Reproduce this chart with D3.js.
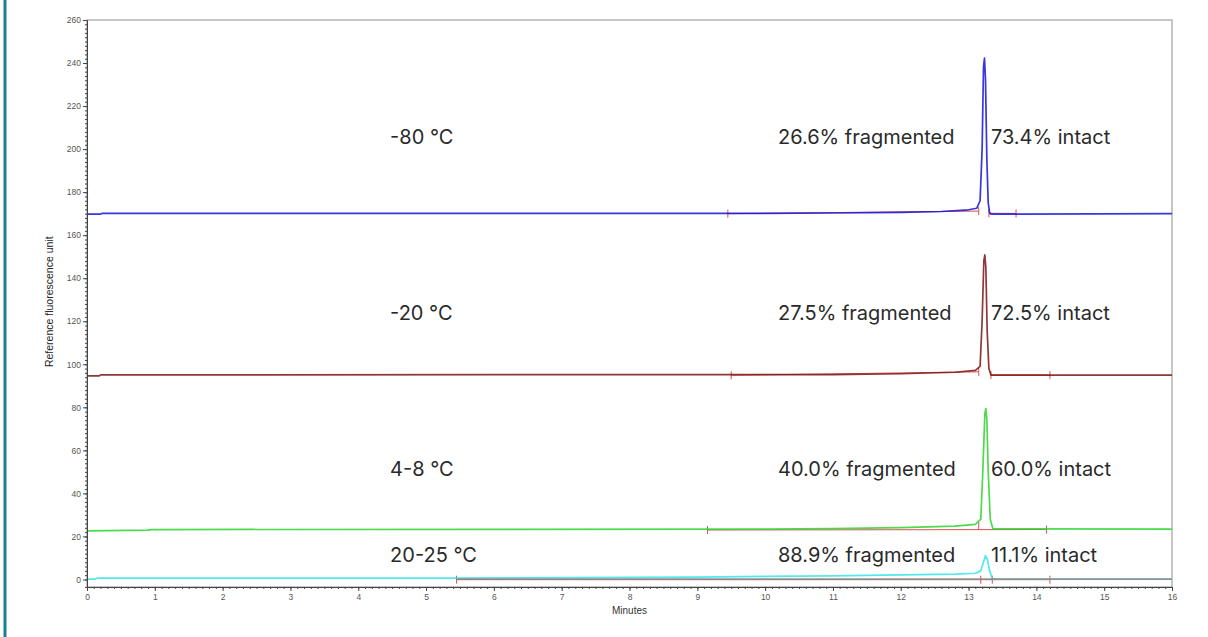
<!DOCTYPE html>
<html>
<head>
<meta charset="utf-8">
<script src="https://cdn.jsdelivr.net/npm/d3@7"></script>
<style>
  html, body { margin: 0; padding: 0; background: #fff; }
  #chart { width: 1208px; height: 637px; }
  .tick text { font-family: "Liberation Sans", Arial, sans-serif; font-size: 8.5px; fill: #555; }
  .tick line { stroke: #444; }
  .domain { stroke: #444; }
  .note { font-family: Inter, "Noto Sans", sans-serif; font-size: 20px; fill: #2a2a2a; }
</style>
</head>
<body>
<div id="chart"></div>
<script>
// Electropherogram traces, [minutes, RFU]
const traceMinus80 = [[0,169.8],[0.2,169.8],[0.22,170.1],[9.45,170.1],[11,170.3],[12,170.6],[12.6,171.0],[13.0,171.8],[13.12,172.5],[13.17,176],[13.2,200],[13.22,238],[13.235,242.3],[13.25,232],[13.27,195],[13.29,175],[13.31,170.5],[13.33,169.8],[16,170]];
const traceMinus20 = [[0,94.6],[0.18,94.6],[0.2,95.1],[11,95.2],[12,95.6],[12.8,96.3],[13.1,97.2],[13.17,99],[13.2,120],[13.225,148],[13.24,150.8],[13.255,145],[13.275,115],[13.3,98],[13.33,95],[16,95]];
const trace4to8 = [[0,22.6],[0.9,22.9],[0.95,23.2],[10,23.4],[11,23.6],[12,24.1],[12.8,24.8],[13.1,25.6],[13.18,28],[13.21,50],[13.24,77],[13.255,79.4],[13.27,74],[13.29,50],[13.32,28],[13.36,23.5],[16,23.4]];
const trace20to25 = [[0,0.2],[0.12,0.2],[0.15,0.6],[5.45,0.6],[7.1,0.9],[9,1.1],[10,1.4],[11,1.7],[12,2.1],[12.8,2.5],[13.1,2.9],[13.18,4],[13.22,8],[13.25,11.1],[13.28,9],[13.31,4],[13.35,0.5],[13.4,0.1],[16,0.1]];
const traceBlank = [[5.45,0.2],[16,0.2]];

// integration baselines and their peak markers
const baseMinus80 = [[[9.45,170.0],[13.15,171.2]],[[13.3,170.2],[13.7,170.1]]];
const baseMinus20 = [[[9.5,94.9],[13.15,96.5]],[[13.33,95.0],[14.2,95.0]]];
const base4to8 = [[[9.15,23.0],[14.15,23.2]]];
const base20to25 = [[[5.45,-0.1],[14.2,-0.1]]];
const marksMinus80 = [[9.45,170.0],[13.15,171.2],[13.3,170.2],[13.7,170.1]];
const marksMinus20 = [[9.5,94.9],[13.15,96.5],[13.33,95.0],[14.2,95.0]];
const marks4to8 = [[9.15,23.0],[13.15,24.8],[14.15,23.2]];
const marks20to25 = [[5.45,-0.1],[13.18,-0.1],[13.35,-0.1],[14.2,-0.1]];

// annotations
const temps = ["-80 °C", "-20 °C", "4-8 °C", "20-25 °C"];
const fragmented = ["26.6", "27.5", "40.0", "88.9"];
const intact = ["73.4", "72.5", "60.0", "11.1"];
const labelRfu = [202.5, 120.8, 48.3, 7.9];
const labelMinutes = [4.47, 10.19, 13.33];

const yTicks = d3.range(0, 261, 20);
const xTicks = d3.range(0, 17, 1);

const traces = [
  { pts: traceMinus80, color: "#1414d8", base: baseMinus80, marks: marksMinus80 },
  { pts: traceMinus20, color: "#7c1414", base: baseMinus20, marks: marksMinus20 },
  { pts: trace4to8, color: "#2ed42e", base: base4to8, marks: marks4to8 },
  { pts: trace20to25, color: "#34e4ec", base: base20to25, marks: marks20to25 }
];

const W = 1208, H = 637;
const svg = d3.select("#chart").append("svg")
  .attr("width", W).attr("height", H);

// teal border on the left edge
svg.append("line")
  .attr("x1", 5).attr("x2", 5).attr("y1", 0).attr("y2", H)
  .attr("stroke", "#1a7f8f").attr("stroke-width", 3);

const x = d3.scaleLinear().domain([0, 16]).range([87, 1172]);
// the axis sits a little below zero, as in the instrument plot
const y = d3.scaleLinear().domain([-3.5, 260]).range([587, 20]);

// frame
svg.append("rect")
  .attr("x", x(0)).attr("y", y(260))
  .attr("width", x(16) - x(0)).attr("height", y(-3.5) - y(260))
  .attr("fill", "none").attr("stroke", "#a0a0a0").attr("stroke-width", 1.2);

const line = d3.line().x(d => x(d[0])).y(d => y(d[1]));

// integration baselines below traces
const gBase = svg.append("g");
traces.forEach(t => {
  t.base.forEach(seg => {
    gBase.append("path").attr("d", line(seg))
      .attr("fill", "none").attr("stroke", "#d85050").attr("stroke-width", 1);
  });
  t.marks.forEach(m => {
    gBase.append("line")
      .attr("x1", x(m[0])).attr("x2", x(m[0]))
      .attr("y1", y(m[1]) - 4).attr("y2", y(m[1]) + 4)
      .attr("stroke", "#d85050").attr("stroke-width", 1);
  });
});

// traces
const gTr = svg.append("g");
traces.forEach(t => {
  gTr.append("path").attr("d", line(t.pts))
    .attr("fill", "none").attr("stroke", t.color)
    .attr("stroke-width", 1.7).attr("stroke-opacity", 0.85)
    .attr("stroke-linejoin", "round");
});
gTr.append("path").attr("d", line(traceBlank))
  .attr("fill", "none").attr("stroke", "#8a8a8a").attr("stroke-width", 1.7)
  .attr("stroke-opacity", 0.9);

// axes
const yAxis = svg.append("g").attr("transform", `translate(${x(0)},0)`);
yAxis.call(d3.axisLeft(y).tickValues(d3.range(0, 261, 2)).tickSize(2).tickFormat(""));
yAxis.append("g").call(d3.axisLeft(y).tickValues(yTicks).tickSize(4).tickPadding(2))
  .select(".domain").remove();

const xAxis = svg.append("g").attr("transform", `translate(0,${y(-3.5)})`);
xAxis.call(d3.axisBottom(x).tickValues(d3.range(0, 161, 1).map(d => d / 10)).tickSize(2).tickFormat(""));
xAxis.append("g").call(d3.axisBottom(x).tickValues(xTicks).tickSize(4).tickPadding(3))
  .select(".domain").remove();

svg.append("text")
  .attr("x", x(8)).attr("y", 614)
  .attr("text-anchor", "middle")
  .attr("font-family", "Liberation Sans, Arial, sans-serif")
  .attr("font-size", 10).attr("fill", "#333")
  .text("Minutes");

svg.append("text")
  .attr("transform", `translate(53,${(y(0) + y(260)) / 2 + 2}) rotate(-90)`)
  .attr("text-anchor", "middle")
  .attr("font-family", "Liberation Sans, Arial, sans-serif")
  .attr("font-size", 10.5).attr("fill", "#222")
  .text("Reference fluorescence unit");

// annotations
const gNote = svg.append("g");
temps.forEach((t, i) => {
  const yy = y(labelRfu[i]);
  gNote.append("text").attr("class", "note")
    .attr("x", x(labelMinutes[0])).attr("y", yy).text(t);
  gNote.append("text").attr("class", "note")
    .attr("x", x(labelMinutes[1])).attr("y", yy).text(fragmented[i] + "% fragmented");
  gNote.append("text").attr("class", "note")
    .attr("x", x(labelMinutes[2])).attr("y", yy).text(intact[i] + "% intact");
});
</script>
</body>
</html>
